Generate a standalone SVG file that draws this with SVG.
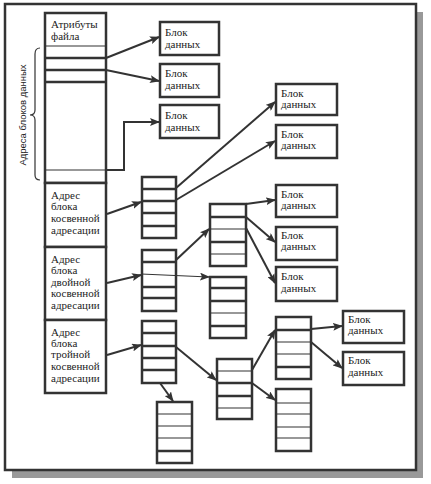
<svg xmlns="http://www.w3.org/2000/svg" width="431" height="484" viewBox="0 0 431 484">
<style>
.frame{fill:#fff;stroke:#333;stroke-width:2.5}
.box{fill:#fff;stroke:#333;stroke-width:2.5}
.thin{stroke:#333;stroke-width:1.2;fill:none}
.thick{stroke:#333;stroke-width:2.5;fill:none}
.arr{stroke:#333;stroke-width:2;fill:none;marker-end:url(#ah)}
.arrt{stroke:#333;stroke-width:1;fill:none;marker-end:url(#ah)}
text{font-family:"Liberation Serif","DejaVu Serif",serif;font-size:11px;fill:#222}
.vt{font-family:"Liberation Sans","DejaVu Sans",sans-serif;font-size:9.5px}
</style>
<defs>
<marker id="ah" markerUnits="userSpaceOnUse" markerWidth="10" markerHeight="8" refX="9" refY="4" orient="auto">
<path d="M0,0 L10,4 L0,8 L2,4 Z" fill="#333"/>
</marker>
</defs>
<rect x="0" y="0" width="431" height="484" fill="#fff"/>
<g id="frame">
<rect x="12" y="12" width="411" height="466" fill="#999"/>
<rect class="frame" x="5" y="4" width="411" height="466"/>
</g>
<g id="main-column">
<rect class="box" x="45" y="13" width="61" height="170"/>
<line class="thin" x1="45" y1="46" x2="106" y2="46"/>
<line class="thick" x1="45" y1="58" x2="106" y2="58"/>
<line class="thick" x1="45" y1="70" x2="106" y2="70"/>
<line class="thick" x1="45" y1="82" x2="106" y2="82"/>
<line class="thin" x1="45" y1="170" x2="106" y2="170"/>
<text x="51" y="28">Атрибуты</text>
<text x="51" y="40">файла</text>
</g>
<g id="brace">
<path class="thin" d="M40,48 Q35,48 35,54 L35,110 Q35,115 30,115 Q35,115 35,120 L35,175 Q35,180 40,180" stroke-width="1.5"/>
<text class="vt" transform="translate(26,115) rotate(-90)" text-anchor="middle">Адреса блоков данных</text>
</g>
<g id="single-addr">
<rect class="box" x="45" y="183" width="61" height="64"/>
<text x="51" y="199">Адрес</text>
<text x="51" y="210">блока</text>
<text x="51" y="222">косвенной</text>
<text x="51" y="234">адресации</text>
</g>
<g id="double-addr">
<rect class="box" x="45" y="247" width="61" height="73"/>
<text x="51" y="263">Адрес</text>
<text x="51" y="274">блока</text>
<text x="51" y="286">двойной</text>
<text x="51" y="297">косвенной</text>
<text x="51" y="309">адресации</text>
</g>
<g id="triple-addr">
<rect class="box" x="45" y="320" width="61" height="73"/>
<text x="51" y="336">Адрес</text>
<text x="51" y="347">блока</text>
<text x="51" y="358">тройной</text>
<text x="51" y="370">косвенной</text>
<text x="51" y="382">адресации</text>
</g>
<g id="data1"><rect class="box" x="160" y="22" width="59" height="33"/><text x="165" y="36">Блок</text><text x="165" y="48">данных</text></g>
<g id="data2"><rect class="box" x="160" y="64" width="59" height="33"/><text x="165" y="77">Блок</text><text x="165" y="89">данных</text></g>
<g id="data3"><rect class="box" x="160" y="105" width="59" height="33"/><text x="165" y="119">Блок</text><text x="165" y="131">данных</text></g>
<g id="data4"><rect class="box" x="276" y="84" width="61" height="31"/><text x="281" y="97">Блок</text><text x="281" y="108">данных</text></g>
<g id="data5"><rect class="box" x="276" y="125" width="61" height="33"/><text x="281" y="138">Блок</text><text x="281" y="149">данных</text></g>
<g id="data6"><rect class="box" x="276" y="185" width="61" height="32"/><text x="281" y="198">Блок</text><text x="281" y="209">данных</text></g>
<g id="data7"><rect class="box" x="276" y="227" width="61" height="33"/><text x="281" y="239">Блок</text><text x="281" y="250">данных</text></g>
<g id="data8"><rect class="box" x="276" y="267" width="61" height="34"/><text x="281" y="280">Блок</text><text x="281" y="292">данных</text></g>
<g id="data9"><rect class="box" x="343" y="311" width="61" height="32"/><text x="348" y="323">Блок</text><text x="348" y="334">данных</text></g>
<g id="data10"><rect class="box" x="343" y="352" width="61" height="33"/><text x="348" y="364">Блок</text><text x="348" y="376">данных</text></g>
<g id="blockA">
<rect class="box" x="142" y="177" width="34" height="61"/>
<line class="thick" x1="142" y1="189" x2="176" y2="189"/>
<line class="thick" x1="142" y1="201" x2="176" y2="201"/>
<line class="thick" x1="142" y1="213" x2="176" y2="213"/>
<line class="thick" x1="142" y1="226" x2="176" y2="226"/>
</g>
<g id="blockB">
<rect class="box" x="142" y="250" width="34" height="61"/>
<line class="thick" x1="142" y1="262" x2="176" y2="262"/>
<line class="thick" x1="142" y1="287" x2="176" y2="287"/>
<line class="thick" x1="142" y1="298" x2="176" y2="298"/>
</g>
<g id="blockC">
<rect class="box" x="142" y="321" width="34" height="62"/>
<line class="thick" x1="142" y1="333" x2="176" y2="333"/>
<line class="thick" x1="142" y1="346" x2="176" y2="346"/>
<line class="thick" x1="142" y1="358" x2="176" y2="358"/>
<line class="thick" x1="142" y1="370" x2="176" y2="370"/>
</g>
<g id="blockD">
<rect class="box" x="157" y="402" width="35" height="61"/>
<line class="thin" x1="157" y1="414" x2="192" y2="414"/>
<line class="thin" x1="157" y1="426" x2="192" y2="426"/>
<line class="thin" x1="157" y1="438" x2="192" y2="438"/>
<line class="thick" x1="157" y1="451" x2="192" y2="451"/>
</g>
<g id="blockE">
<rect class="box" x="217" y="359" width="35" height="60"/>
<line class="thin" x1="217" y1="371" x2="252" y2="371"/>
<line class="thick" x1="217" y1="383" x2="252" y2="383"/>
<line class="thick" x1="217" y1="396" x2="252" y2="396"/>
<line class="thin" x1="217" y1="408" x2="252" y2="408"/>
</g>
<g id="blockF">
<rect class="box" x="276" y="317" width="35" height="62"/>
<line class="thick" x1="276" y1="330" x2="311" y2="330"/>
<line class="thin" x1="276" y1="342" x2="311" y2="342"/>
<line class="thin" x1="276" y1="354" x2="311" y2="354"/>
<line class="thick" x1="276" y1="367" x2="311" y2="367"/>
</g>
<g id="blockG">
<rect class="box" x="276" y="389" width="35" height="62"/>
<line class="thin" x1="276" y1="403" x2="311" y2="403"/>
<line class="thin" x1="276" y1="414" x2="311" y2="414"/>
<line class="thin" x1="276" y1="427" x2="311" y2="427"/>
<line class="thin" x1="276" y1="438" x2="311" y2="438"/>
</g>
<g id="blockH">
<rect class="box" x="210" y="204" width="36" height="62"/>
<line class="thick" x1="210" y1="217" x2="246" y2="217"/>
<line class="thin" x1="210" y1="229" x2="246" y2="229"/>
<line class="thick" x1="210" y1="242" x2="246" y2="242"/>
<line class="thin" x1="210" y1="254" x2="246" y2="254"/>
</g>
<g id="blockI">
<rect class="box" x="210" y="277" width="36" height="61"/>
<line class="thick" x1="210" y1="288" x2="246" y2="288"/>
<line class="thick" x1="210" y1="301" x2="246" y2="301"/>
<line class="thin" x1="210" y1="313" x2="246" y2="313"/>
<line class="thick" x1="210" y1="326" x2="246" y2="326"/>
</g>
<g id="connectors">
<line class="arr" x1="106" y1="58" x2="159" y2="37"/>
<line class="arr" x1="106" y1="70" x2="159" y2="81"/>
<polyline class="arr" points="106,170 124,170 124,122 159,122"/>
<line class="arr" x1="107" y1="214" x2="141" y2="202"/>
<line class="arr" x1="107" y1="283" x2="141" y2="275"/>
<line class="arr" x1="107" y1="355" x2="141" y2="345"/>
<line class="arr" x1="176" y1="188" x2="275" y2="102"/>
<line class="arr" x1="176" y1="200" x2="275" y2="141"/>
<line class="arr" x1="176" y1="260" x2="209" y2="229"/>
<line class="arrt" x1="141" y1="274" x2="209" y2="277"/>
<line class="arr" x1="246" y1="204" x2="275" y2="200"/>
<line class="arr" x1="246" y1="217" x2="275" y2="242"/>
<line class="arr" x1="246" y1="228" x2="275" y2="283"/>
<line class="arr" x1="176" y1="347" x2="216" y2="380"/>
<line class="arr" x1="160" y1="383" x2="173" y2="401"/>
<line class="arr" x1="252" y1="370" x2="275" y2="330"/>
<line class="arr" x1="252" y1="383" x2="275" y2="400"/>
<line class="arr" x1="311" y1="329" x2="342" y2="326"/>
<line class="arr" x1="311" y1="342" x2="342" y2="368"/>
</g>
</svg>
